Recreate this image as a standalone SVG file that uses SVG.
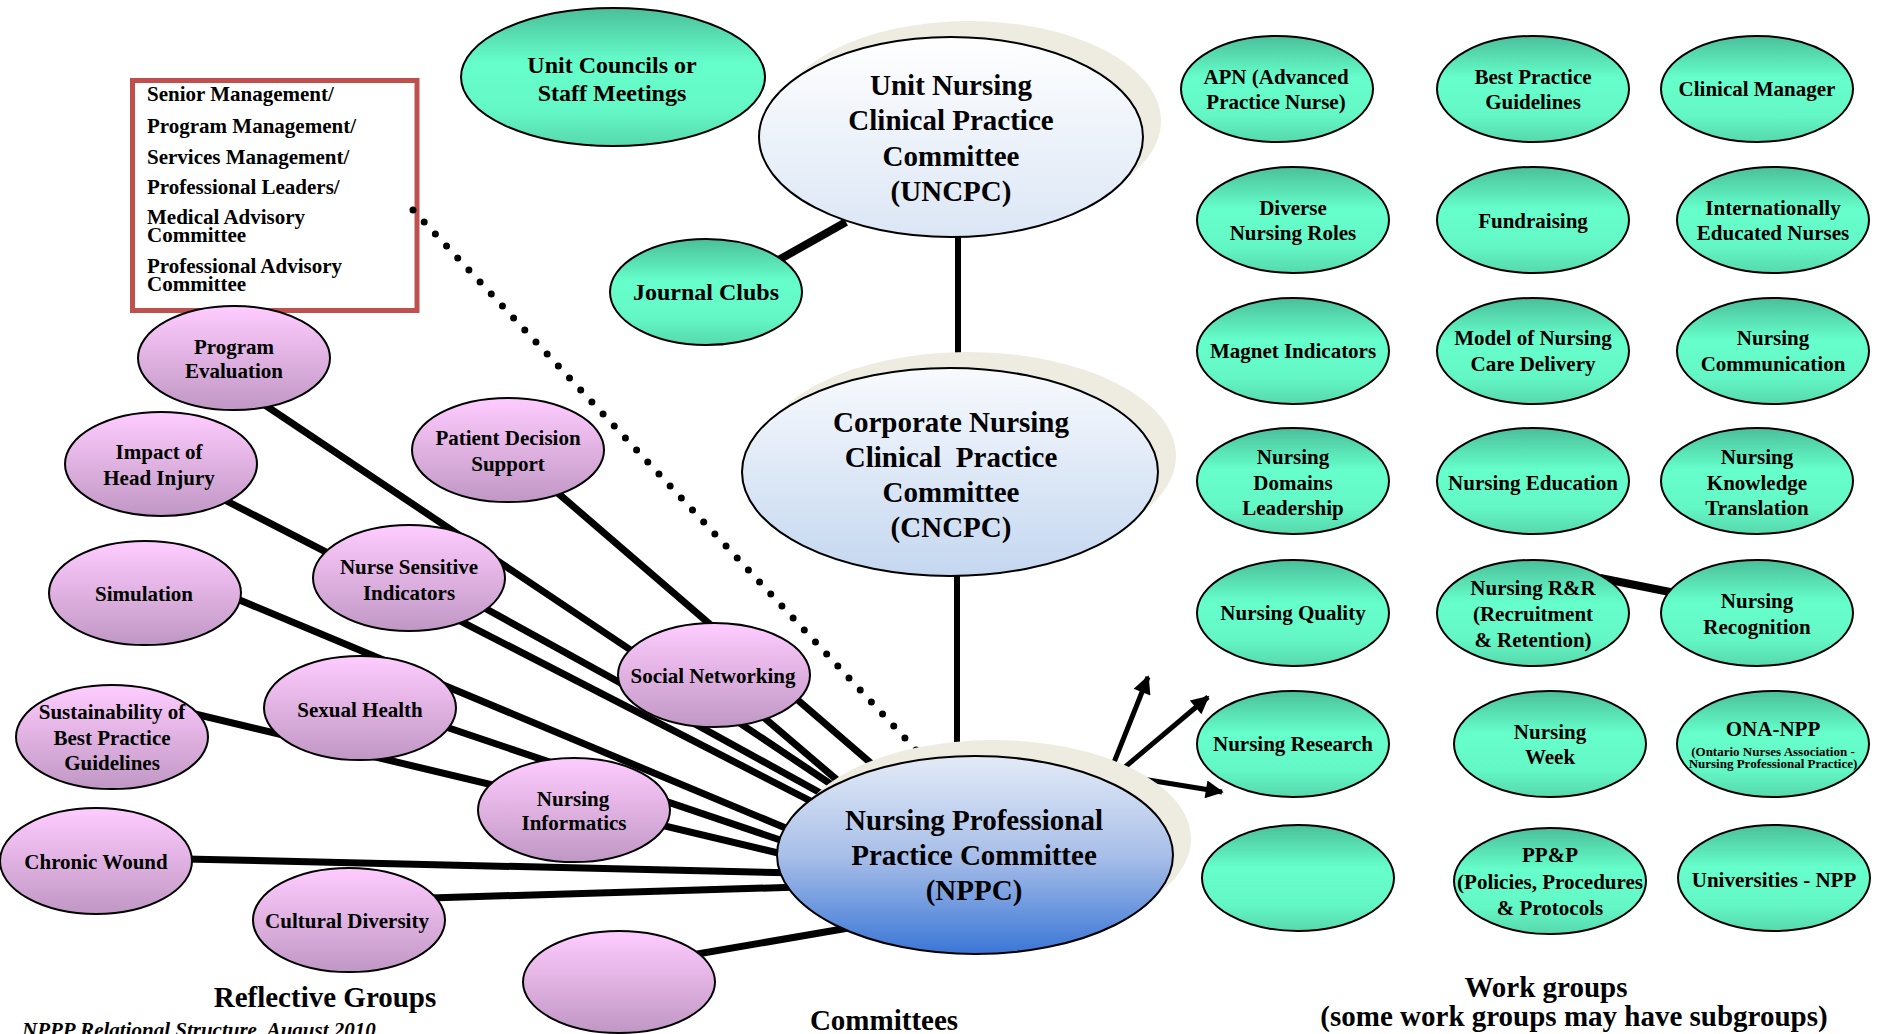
<svg xmlns="http://www.w3.org/2000/svg" width="1878" height="1034" viewBox="0 0 1878 1034">
<style>
text{font-family:"Liberation Serif","Times New Roman",serif;font-weight:bold;fill:#000;text-anchor:middle}
.s21{font-size:21px}
.s24{font-size:24px}
.s29{font-size:29px}
.s13{font-size:13px}
.lft{text-anchor:start}
.g ellipse{fill:url(#gGreen);stroke:#000;stroke-width:2}
.p ellipse{fill:url(#gPink);stroke:#000;stroke-width:2}
.shadow{fill:#eeece1;stroke:none}
.big{stroke:#000;stroke-width:2}
.ln{stroke:#000;stroke-width:7;stroke-linecap:butt;fill:none}
.arr{stroke:#000;stroke-width:5;fill:none;marker-end:url(#ah)}
</style>
<defs>
<linearGradient id="gGreen" x1="0" y1="0" x2="0" y2="1">
<stop offset="0" stop-color="#4bbf99"/>
<stop offset="0.4" stop-color="#66ffcc"/>
<stop offset="0.75" stop-color="#64f7c6"/>
<stop offset="1" stop-color="#56d8ad"/>
</linearGradient>
<linearGradient id="gPink" x1="0" y1="0" x2="0" y2="1">
<stop offset="0" stop-color="#ffccff"/>
<stop offset="1" stop-color="#c097c4"/>
</linearGradient>
<linearGradient id="gU" x1="0" y1="0" x2="0" y2="1">
<stop offset="0" stop-color="#ffffff"/>
<stop offset="1" stop-color="#dbe6f5"/>
</linearGradient>
<linearGradient id="gC" x1="0" y1="0" x2="0" y2="1">
<stop offset="0" stop-color="#f8fafd"/>
<stop offset="1" stop-color="#c4d7f0"/>
</linearGradient>
<linearGradient id="gN" x1="0" y1="0" x2="0" y2="1">
<stop offset="0" stop-color="#e3ebf7"/>
<stop offset="0.5" stop-color="#a9bfe8"/>
<stop offset="1" stop-color="#3a76d6"/>
</linearGradient>
<marker id="ah" viewBox="0 0 10 10" refX="9" refY="5" markerUnits="userSpaceOnUse" markerWidth="22" markerHeight="18" orient="auto">
<path d="M0,0 L10,5 L0,10 z" fill="#000"/>
</marker>
</defs>
<rect width="1878" height="1034" fill="#fff"/>

<g id="box-management">
<rect x="132.5" y="80.5" width="284.5" height="230" fill="#fff" stroke="#c0504d" stroke-width="5"/>
<text class="s21 lft" x="147" y="101">Senior Management/</text>
<text class="s21 lft" x="147" y="132.5">Program Management/</text>
<text class="s21 lft" x="147" y="163.5">Services Management/</text>
<text class="s21 lft" x="147" y="194">Professional Leaders/</text>
<text class="s21 lft" x="147" y="224">Medical Advisory<tspan x="147" y="242">Committee</tspan></text>
<text class="s21 lft" x="147" y="273">Professional Advisory<tspan x="147" y="291">Committee</tspan></text>
</g>

<g id="connectors">
<line class="ln" x1="958" y1="230" x2="958" y2="360" style="stroke-width:6"/>
<line class="ln" x1="957" y1="570" x2="957" y2="760" style="stroke-width:6"/>
<line class="ln" x1="775" y1="262" x2="846" y2="222" style="stroke-width:8"/>
<line class="ln" x1="1600" y1="578" x2="1680" y2="594" style="stroke-width:8"/>
<line class="ln" x1="250" y1="395" x2="850" y2="797"/>
<line class="ln" x1="545" y1="482" x2="880" y2="771"/>
<line class="ln" x1="215" y1="495" x2="830" y2="811"/>
<line class="ln" x1="470" y1="600" x2="835" y2="801"/>
<line class="ln" x1="714" y1="675" x2="850" y2="791"/>
<line class="ln" x1="230" y1="596" x2="800" y2="834"/>
<line class="ln" x1="440" y1="725" x2="795" y2="845"/>
<line class="ln" x1="195" y1="714" x2="795" y2="857"/>
<line class="ln" x1="185" y1="859" x2="800" y2="873"/>
<line class="ln" x1="430" y1="898" x2="800" y2="887"/>
<line class="ln" x1="680" y1="957" x2="860" y2="926"/>
<line x1="413" y1="210" x2="918" y2="752" stroke="#000" stroke-width="7" stroke-linecap="round" stroke-dasharray="0 16.4"/>
<line class="arr" x1="1107" y1="780" x2="1148" y2="677"/>
<line class="arr" x1="1112" y1="778" x2="1208" y2="697"/>
<line class="arr" x1="1130" y1="777" x2="1222" y2="792"/>
</g>

<g id="node-uncpc">
<ellipse class="shadow" cx="969" cy="121" rx="192" ry="100"/>
<ellipse class="big" cx="951" cy="137" rx="192" ry="100" fill="url(#gU)"/>
<text class="s29" x="951" y="94.5">Unit Nursing</text>
<text class="s29" x="951" y="130">Clinical Practice</text>
<text class="s29" x="951" y="165.5">Committee</text>
<text class="s29" x="951" y="201">(UNCPC)</text>
</g>
<g id="node-cncpc">
<ellipse class="shadow" cx="968" cy="456" rx="208" ry="104"/>
<ellipse class="big" cx="950" cy="472" rx="208" ry="104" fill="url(#gC)"/>
<text class="s29" x="951" y="432">Corporate Nursing</text>
<text class="s29" x="951" y="467" xml:space="preserve">Clinical  Practice</text>
<text class="s29" x="951" y="502">Committee</text>
<text class="s29" x="951" y="537">(CNCPC)</text>
</g>
<g id="node-nppc">
<ellipse class="shadow" cx="993" cy="839" rx="198" ry="99"/>
<ellipse class="big" cx="975" cy="855" rx="198" ry="99" fill="url(#gN)"/>
<text class="s29" x="974" y="830">Nursing Professional</text>
<text class="s29" x="974" y="865">Practice Committee</text>
<text class="s29" x="974" y="900">(NPPC)</text>
</g>

<g id="node-unit-councils" class="g">
<ellipse cx="613" cy="77" rx="152" ry="69"/>
<text class="s24" x="612" y="73">Unit Councils or</text>
<text class="s24" x="612" y="101">Staff Meetings</text>
</g>
<g id="node-journal-clubs" class="g">
<ellipse cx="706" cy="292" rx="96" ry="53"/>
<text class="s24" x="706" y="300">Journal Clubs</text>
</g>

<g id="node-apn" class="g"><ellipse cx="1277" cy="89" rx="96" ry="53"/><text class="s21" x="1276" y="84">APN (Advanced</text><text class="s21" x="1276" y="109">Practice Nurse)</text></g>
<g id="node-bpg" class="g"><ellipse cx="1533" cy="89" rx="96" ry="53"/><text class="s21" x="1533" y="84">Best Practice</text><text class="s21" x="1533" y="109">Guidelines</text></g>
<g id="node-clinical-manager" class="g"><ellipse cx="1757" cy="89" rx="96" ry="53"/><text class="s21" x="1757" y="96">Clinical Manager</text></g>
<g id="node-diverse" class="g"><ellipse cx="1293" cy="220" rx="96" ry="53"/><text class="s21" x="1293" y="215">Diverse</text><text class="s21" x="1293" y="240">Nursing Roles</text></g>
<g id="node-fundraising" class="g"><ellipse cx="1533" cy="220" rx="96" ry="53"/><text class="s21" x="1533" y="228">Fundraising</text></g>
<g id="node-ien" class="g"><ellipse cx="1773" cy="220" rx="96" ry="53"/><text class="s21" x="1773" y="215">Internationally</text><text class="s21" x="1773" y="240">Educated Nurses</text></g>
<g id="node-magnet" class="g"><ellipse cx="1293" cy="351" rx="96" ry="53"/><text class="s21" x="1293" y="358">Magnet Indicators</text></g>
<g id="node-model" class="g"><ellipse cx="1533" cy="351" rx="96" ry="53"/><text class="s21" x="1533" y="345">Model of Nursing</text><text class="s21" x="1533" y="371">Care Delivery</text></g>
<g id="node-communication" class="g"><ellipse cx="1773" cy="351" rx="96" ry="53"/><text class="s21" x="1773" y="345">Nursing</text><text class="s21" x="1773" y="371">Communication</text></g>
<g id="node-domains" class="g"><ellipse cx="1293" cy="481" rx="96" ry="53"/><text class="s21" x="1293" y="464">Nursing</text><text class="s21" x="1293" y="490">Domains</text><text class="s21" x="1293" y="515">Leadership</text></g>
<g id="node-education" class="g"><ellipse cx="1533" cy="481" rx="96" ry="53"/><text class="s21" x="1533" y="490">Nursing Education</text></g>
<g id="node-knowledge" class="g"><ellipse cx="1757" cy="481" rx="96" ry="53"/><text class="s21" x="1757" y="464">Nursing</text><text class="s21" x="1757" y="490">Knowledge</text><text class="s21" x="1757" y="515">Translation</text></g>
<g id="node-quality" class="g"><ellipse cx="1293" cy="613" rx="96" ry="53"/><text class="s21" x="1293" y="620">Nursing Quality</text></g>
<g id="node-rr" class="g"><ellipse cx="1533" cy="613" rx="96" ry="53"/><text class="s21" x="1533" y="595">Nursing R&amp;R</text><text class="s21" x="1533" y="621">(Recruitment</text><text class="s21" x="1533" y="647">&amp; Retention)</text></g>
<g id="node-recognition" class="g"><ellipse cx="1757" cy="613" rx="96" ry="53"/><text class="s21" x="1757" y="608">Nursing</text><text class="s21" x="1757" y="634">Recognition</text></g>
<g id="node-research" class="g"><ellipse cx="1293" cy="744" rx="96" ry="53"/><text class="s21" x="1293" y="751">Nursing Research</text></g>
<g id="node-week" class="g"><ellipse cx="1550" cy="744" rx="96" ry="53"/><text class="s21" x="1550" y="739">Nursing</text><text class="s21" x="1550" y="764">Week</text></g>
<g id="node-ona" class="g"><ellipse cx="1773" cy="744" rx="96" ry="53"/><text class="s21" x="1773" y="736">ONA-NPP</text><text class="s13" x="1773" y="756">(Ontario Nurses Association -<tspan x="1773" y="768">Nursing Professional Practice)</tspan></text></g>
<g id="node-green-empty" class="g"><ellipse cx="1298" cy="878" rx="96" ry="53"/></g>
<g id="node-ppp" class="g"><ellipse cx="1550" cy="881" rx="96" ry="53"/><text class="s21" x="1550" y="862">PP&amp;P</text><text class="s21" x="1550" y="889">(Policies, Procedures</text><text class="s21" x="1550" y="915">&amp; Protocols</text></g>
<g id="node-universities" class="g"><ellipse cx="1774" cy="878" rx="96" ry="53"/><text class="s21" x="1774" y="887">Universities - NPP</text></g>

<g id="node-program-evaluation" class="p"><ellipse cx="234" cy="358" rx="96" ry="52"/><text class="s21" x="234" y="354">Program</text><text class="s21" x="234" y="378">Evaluation</text></g>
<g id="node-head-injury" class="p"><ellipse cx="161" cy="464" rx="96" ry="52"/><text class="s21" x="159" y="459">Impact of</text><text class="s21" x="159" y="485">Head Injury</text></g>
<g id="node-patient-decision" class="p"><ellipse cx="508" cy="450" rx="96" ry="52"/><text class="s21" x="508" y="445">Patient Decision</text><text class="s21" x="508" y="471">Support</text></g>
<g id="node-simulation" class="p"><ellipse cx="145" cy="593" rx="96" ry="52"/><text class="s21" x="144" y="601">Simulation</text></g>
<g id="node-nurse-sensitive" class="p"><ellipse cx="409" cy="578" rx="96" ry="53"/><text class="s21" x="409" y="574">Nurse Sensitive</text><text class="s21" x="409" y="600">Indicators</text></g>
<g id="node-social-networking" class="p"><ellipse cx="714" cy="675" rx="96" ry="52"/><text class="s21" x="713" y="683">Social Networking</text></g>
<g id="node-sexual-health" class="p"><ellipse cx="360" cy="708" rx="96" ry="52"/><text class="s21" x="360" y="717">Sexual Health</text></g>
<g id="node-sustainability" class="p"><ellipse cx="112" cy="737" rx="96" ry="52"/><text class="s21" x="112" y="719">Sustainability of</text><text class="s21" x="112" y="745">Best Practice</text><text class="s21" x="112" y="770">Guidelines</text></g>
<g id="node-informatics" class="p"><ellipse cx="574" cy="810" rx="96" ry="52"/><text class="s21" x="573" y="806">Nursing</text><text class="s21" x="574" y="830">Informatics</text></g>
<g id="node-chronic-wound" class="p"><ellipse cx="96" cy="861" rx="96" ry="53"/><text class="s21" x="96" y="869">Chronic Wound</text></g>
<g id="node-cultural-diversity" class="p"><ellipse cx="349" cy="920" rx="96" ry="52"/><text class="s21" x="347" y="928">Cultural Diversity</text></g>
<g id="node-pink-empty" class="p"><ellipse cx="619" cy="982" rx="96" ry="51"/></g>

<g id="labels">
<text class="s29" x="325" y="1007">Reflective Groups</text>
<text class="s29" x="884" y="1030">Committees</text>
<text class="s29" x="1546" y="997">Work groups</text>
<text class="s29" x="1574" y="1026">(some work groups may have subgroups)</text>
<text class="s21 lft" x="22" y="1037" font-style="italic">NPPP Relational Structure, August 2010</text>
</g>
</svg>
